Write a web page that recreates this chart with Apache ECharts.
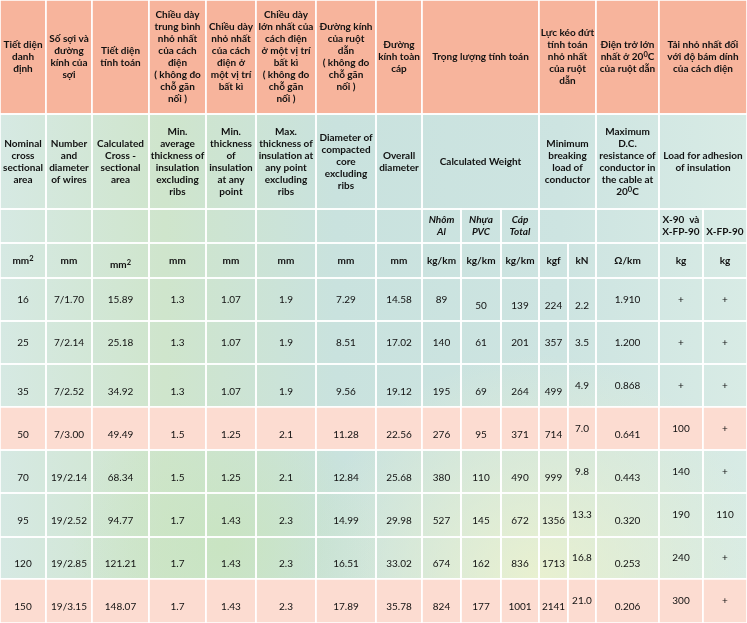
<!DOCTYPE html>
<html>
<head>
<meta charset="utf-8">
<script src="https://cdn.jsdelivr.net/npm/echarts@6/dist/echarts.min.js"></script>
<style>
    html, body {margin: 0; padding: 0; background: #fff;}
    #main {width: 747px; height: 623px;}
</style>
</head>
<body>
<div id="main"></div>
<script>
// số liệu bảng
let sizes = [16, 25, 35, 50, 70, 95, 120, 150];
let wires = ['7/1.70', '7/2.14', '7/2.52', '7/3.00', '19/2.14', '19/2.52', '19/2.85', '19/3.15'];
let calcArea = [15.89, 25.18, 34.92, 49.49, 68.34, 94.77, 121.21, 148.07];
let avgThick = [1.3, 1.3, 1.3, 1.5, 1.5, 1.7, 1.7, 1.7];
let minThick = [1.07, 1.07, 1.07, 1.25, 1.25, 1.43, 1.43, 1.43];
let maxThick = [1.9, 1.9, 1.9, 2.1, 2.1, 2.3, 2.3, 2.3];
let coreDia = [7.29, 8.51, 9.56, 11.28, 12.84, 14.99, 16.51, 17.89];
let overallDia = [14.58, 17.02, 19.12, 22.56, 25.68, 29.98, 33.02, 35.78];
let alWeight = [89, 140, 195, 276, 380, 527, 674, 824];
let pvcWeight = [50, 61, 69, 95, 110, 145, 162, 177];
let totalWeight = [139, 201, 264, 371, 490, 672, 836, 1001];
let breakKgf = [224, 357, 499, 714, 999, 1356, 1713, 2141];
let breakKN = [2.2, 3.5, 4.9, 7.0, 9.8, 13.3, 16.8, 21.0];
let resistance = ['1.910', '1.200', '0.868', '0.641', '0.443', '0.320', '0.253', '0.206'];
let adhesionX90 = ['+', '+', '+', 100, 140, 190, 240, 300];
let adhesionXFP = ['+', '+', '+', '+', '+', 110, '+', '+'];

let headerVi = [
    'Tiết diện\ndanh\nđịnh',
    'Số sợi và\nđường\nkính của\nsợi',
    'Tiết diện\ntính toán',
    'Chiều dày\ntrung bình\nnhỏ nhất\ncủa cách\nđiện\n( không đo\nchỗ gãn\nnối )',
    'Chiều dày\nnhỏ nhất\ncủa cách\nđiện ở\nmột vị trí\nbất kì',
    'Chiều dày\nlớn nhất của\ncách điện\nở một vị trí\nbất kì\n( không đo\nchỗ gãn\nnối )',
    'Đường kính\ncủa ruột\ndẫn\n( không đo\nchỗ gãn\nnối )',
    'Đường\nkính toàn\ncáp',
    'Trọng lượng tính toán',
    'Lực kéo đứt\ntính toán\nnhỏ nhất\ncủa ruột\ndẫn',
    'Điện trở lớn\nnhất ở 20⁰C\ncủa ruột dẫn',
    'Tải nhỏ nhất đối\nvới độ bám dính\ncủa cách điện'
];
let headerEn = [
    'Nominal\ncross\nsectional\narea',
    'Number\nand\ndiameter\nof wires',
    'Calculated\nCross -\nsectional\narea',
    'Min.\naverage\nthickness of\ninsulation\nexcluding\nribs',
    'Min.\nthickness\nof\ninsulation\nat any\npoint',
    'Max.\nthickness of\ninsulation at\nany point\nexcluding\nribs',
    'Diameter of\ncompacted\ncore\nexcluding\nribs',
    'Overall\ndiameter',
    'Calculated Weight',
    'Minimum\nbreaking\nload of\nconductor',
    'Maximum\nD.C.\nresistance of\nconductor in\nthe cable at\n20⁰C',
    'Load for adhesion\nof insulation'
];
let subHeader = ['', '', '', '', '', '', '', '', 'Nhôm\nAl', 'Nhựa\nPVC', 'Cáp\nTotal', '', '', 'X-90  và\nX-FP-90', 'X-FP-90'];
let units = ['mm²', 'mm', 'mm²', 'mm', 'mm', 'mm', 'mm', 'mm', 'kg/km', 'kg/km', 'kg/km', 'kgf', 'kN', 'Ω/km', 'kg', 'kg'];

// bố cục
let colEdges = [0, 46, 92, 149, 206, 256, 316, 376, 422, 461, 501, 539, 568, 596, 659, 703, 747];
let rowEdges = [0, 114, 209, 243, 278, 321, 364, 407, 450, 493, 537, 579, 623];
let headSpan = [1, 1, 1, 1, 1, 1, 1, 1, 3, 2, 1, 2];
let subSpan = [1, 1, 1, 1, 1, 1, 1, 1, 1, 1, 1, 2, 1, 1, 1];
let subItalic = [8, 9, 10];
let subLow = [14];
let unitLow = [2];
let decimals = [0, null, 2, 1, 2, 1, 2, 2, 0, 0, 0, 0, 1, null, null, null];
let lowCols = [
    [9, 10, 11, 12],
    [],
    [0, 1, 2, 3, 4, 5, 6, 7, 8, 9, 10, 11],
    [0, 1, 2, 3, 4, 5, 6, 7, 8, 9, 10, 11, 13],
    [0, 1, 2, 3, 4, 5, 6, 7, 8, 9, 10, 11, 13],
    [0, 1, 2, 3, 4, 5, 6, 7, 8, 9, 10, 11, 13],
    [0, 1, 2, 3, 4, 5, 6, 7, 8, 9, 10, 11, 13],
    [0, 1, 2, 3, 4, 5, 6, 7, 8, 9, 10, 11, 13]
];
let peachRows = [3, 7];

const FONT = 'Lato, "Noto Sans", "DejaVu Sans", sans-serif';
const HEAD_FILL = '#f7b49c';
const PEACH_FILL = '#fcdcd1';
const INK = '#111111';

let cells = [];

function sup(t) {
    return t.replace(/²/g, '{s|2}').replace(/⁰/g, '{s|0}');
}

function addRow(r, texts, spans, opt) {
    let c = 0;
    texts.forEach(function (t, i) {
        let s = spans ? spans[i] : 1;
        cells.push({
            value: [colEdges[c], colEdges[c + s], rowEdges[r], rowEdges[r + 1]],
            text: sup(t),
            fill: opt.fill || 'transparent',
            bold: opt.bold,
            italic: opt.italic ? opt.italic.indexOf(i) >= 0 : false,
            dy: opt.low && opt.low.indexOf(i) >= 0 ? (opt.shift || 6) : 0
        });
        c += s;
    });
}

function fmt(v, d) {
    return (typeof v === 'number' && d !== null) ? v.toFixed(d) : String(v);
}

addRow(0, headerVi, headSpan, {fill: HEAD_FILL, bold: true});
addRow(1, headerEn, headSpan, {bold: true});
addRow(2, subHeader, subSpan, {bold: true, italic: subItalic, low: subLow});
addRow(3, units, null, {bold: true, low: unitLow, shift: 4});

let columns = [sizes, wires, calcArea, avgThick, minThick, maxThick, coreDia, overallDia,
    alWeight, pvcWeight, totalWeight, breakKgf, breakKN, resistance, adhesionX90, adhesionXFP];
for (let i = 0; i < sizes.length; i++) {
    let texts = columns.map(function (col, j) { return fmt(col[i], decimals[j]); });
    addRow(4 + i, texts, null, {
        fill: peachRows.indexOf(i) >= 0 ? PEACH_FILL : 'transparent',
        bold: false,
        low: lowCols[i]
    });
}

let myChart = echarts.init(document.getElementById('main'));
let option = {
    animation: false,
    grid: {left: 0, right: 0, top: 0, bottom: 0},
    xAxis: {type: 'value', min: 0, max: 747, show: false},
    yAxis: {type: 'value', min: 0, max: 623, inverse: true, show: false},
    series: [{
        // nền xanh
        type: 'custom',
        silent: true,
        clip: false,
        encode: {x: [0, 1], y: [2, 3]},
        data: [[0, 747, 114, 623]],
        renderItem: function (params, api) {
            let a = api.coord([api.value(0), api.value(2)]);
            let b = api.coord([api.value(1), api.value(3)]);
            let shape = {x: a[0], y: a[1], width: b[0] - a[0], height: b[1] - a[1]};
            return {
                type: 'group',
                children: [{
                    type: 'rect', shape: shape,
                    style: {fill: new echarts.graphic.LinearGradient(0, 0, 1, 0, [
                        {offset: 0, color: '#d6e9e3'},
                        {offset: 0.22, color: '#cfe5cc'},
                        {offset: 0.45, color: '#c9e2de'},
                        {offset: 0.75, color: '#cde4e1'},
                        {offset: 1, color: '#d8ebe5'}
                    ])}
                }, {
                    type: 'rect', shape: shape,
                    style: {fill: new echarts.graphic.RadialGradient(0.72, 0.92, 0.45, [
                        {offset: 0, color: 'rgba(236,242,206,0.9)'},
                        {offset: 1, color: 'rgba(236,242,206,0)'}
                    ])}
                }, {
                    type: 'rect', shape: shape,
                    style: {fill: new echarts.graphic.RadialGradient(0.3, 0.85, 0.3, [
                        {offset: 0, color: 'rgba(200,228,190,0.8)'},
                        {offset: 1, color: 'rgba(200,228,190,0)'}
                    ])}
                }]
            };
        }
    }, {
        // các ô của bảng
        type: 'custom',
        silent: true,
        clip: false,
        encode: {x: [0, 1], y: [2, 3]},
        data: cells,
        renderItem: function (params, api) {
            let cell = cells[params.dataIndex];
            let a = api.coord([api.value(0), api.value(2)]);
            let b = api.coord([api.value(1), api.value(3)]);
            let weight = cell.bold ? 'bold' : 'normal';
            return {
                type: 'group',
                children: [{
                    type: 'rect',
                    shape: {x: a[0], y: a[1], width: b[0] - a[0], height: b[1] - a[1]},
                    style: {fill: cell.fill, stroke: '#ffffff', lineWidth: 1.6}
                }, {
                    type: 'text',
                    x: (a[0] + b[0]) / 2,
                    y: (a[1] + b[1]) / 2 + cell.dy,
                    style: {
                        text: cell.text,
                        align: 'center',
                        verticalAlign: 'middle',
                        fill: INK,
                        fontFamily: FONT,
                        fontSize: 10,
                        fontWeight: weight,
                        fontStyle: cell.italic ? 'italic' : 'normal',
                        lineHeight: 12,
                        rich: {
                            s: {
                                fontFamily: FONT, fontSize: 7.5, fontWeight: weight,
                                fill: INK, verticalAlign: 'top', lineHeight: 12,
                                padding: [0, 0, 5, 0]
                            }
                        }
                    }
                }]
            };
        }
    }]
};
myChart.setOption(option);
</script>
</body>
</html>
